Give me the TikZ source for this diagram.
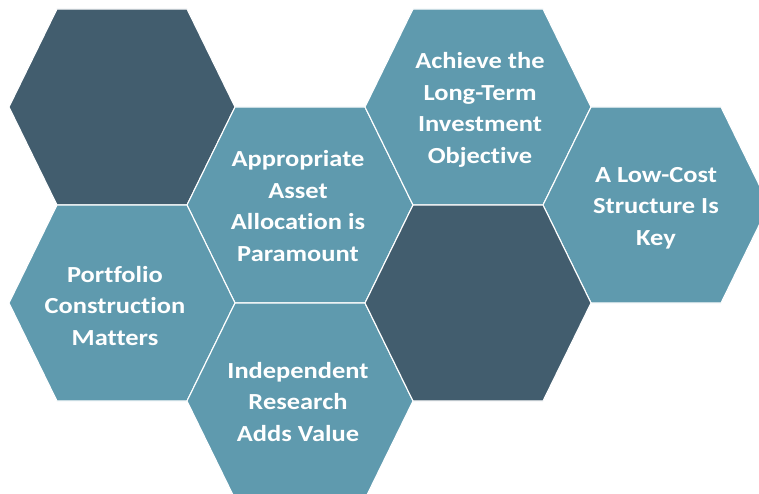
\documentclass[tikz,border=0pt]{standalone}
\usepackage{fontspec}
\setmainfont{Carlito}[FakeStretch=1.15, Ligatures={NoCommon}]
\definecolor{hexdark}{HTML}{425D6E}
\definecolor{hexteal}{HTML}{5F9AAE}
\newcommand\hexcell[3]{\path[hexa, fill=#3] (#1-113,#2) -- ++(48,-98) -- ++(130,0) -- ++(48,98) -- ++(-48,98) -- ++(-130,0) -- cycle;}
\begin{document}
\begin{tikzpicture}[x=1pt,y=-1pt,
  hexa/.style={draw=white, line width=1.1pt, line join=miter},
  hexlabel/.style={text=white, font=\bfseries\fontsize{23}{31.5}\selectfont, align=center, inner sep=0pt}]
\useasboundingbox (0,0) rectangle (759,494);
\fill[white] (0,0) rectangle (759,494);
\begin{scope}
\clip (0,0) rectangle (759,494);
\hexcell{122}{107}{hexdark}
\hexcell{300}{205}{hexteal}
\hexcell{478}{107}{hexteal}
\hexcell{656}{205}{hexteal}
\hexcell{122}{303}{hexteal}
\hexcell{300}{401}{hexteal}
\hexcell{478}{303}{hexdark}
\end{scope}
\node[hexlabel] (alloc) at (298,206) {Appropriate\\Asset\\Allocation is\\Paramount};
\node[hexlabel] (goal) at (480,110) {Achieve the\\Long-Term\\Investment\\Objective};
\node[hexlabel] (cost) at (656,208) {A Low-Cost\\Structure Is\\Key};
\node[hexlabel] (constr) at (115,306) {Portfolio\\Construction\\Matters};
\node[hexlabel] (research) at (298,402) {Independent\\Research\\Adds Value};
\end{tikzpicture}
\end{document}
